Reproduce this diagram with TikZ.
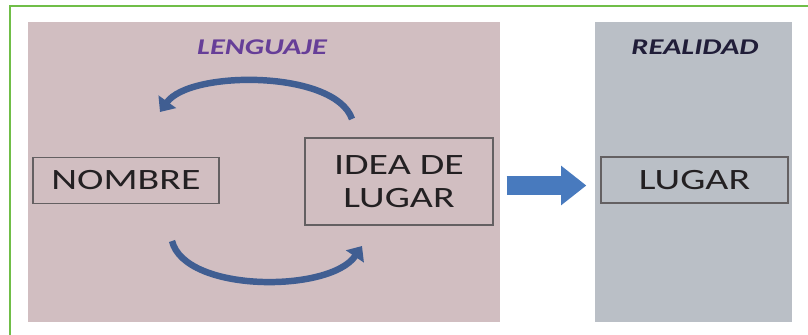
\documentclass[tikz,border=0pt]{standalone}
\usepackage{fontspec}
\setmainfont{Carlito}[FakeStretch=1.35]
\usetikzlibrary{arrows.meta, positioning, calc}
\definecolor{rose}{RGB}{209,190,193}
\definecolor{ardoise}{RGB}{186,191,198}
\definecolor{vert}{RGB}{112,190,72}
\definecolor{bleu}{RGB}{72,122,190}
\definecolor{bleufonce}{RGB}{64,94,146}
\definecolor{violet}{RGB}{102,62,152}
\definecolor{gris}{RGB}{100,96,98}
\definecolor{encre}{RGB}{35,32,34}
\tikzset{
	boite/.style={draw=gris, line width=1.3pt, inner sep=0pt, text=encre,
		font=\fontsize{21}{23.4}\selectfont, align=center},
	titre/.style={font=\fontsize{16}{18}\selectfont\bfseries\itshape},
	courbe/.style={bleufonce, line width=4.6pt, -{Triangle[length=9pt, width=15pt]}},
	grosse/.style={bleu, line width=13pt, -{Triangle[length=18pt, width=27pt]}}
}

\begin{document}
\begin{tikzpicture}[x=0.025cm, y=-0.025cm]
	\useasboundingbox (0,0) rectangle (808,335);
	
	% cadre vert
	\draw[vert, line width=1.4pt] (10,335) -- (10,6) -- (808,6);
	
	% panneaux
	\fill[rose] (28,22) rectangle (500,322);
	\fill[ardoise] (595,22) rectangle (792,322);
	\node[titre, text=violet] (lenguaje) at (262,47) {LENGUAJE};
	\node[titre, text=encre!90!blue] (realidad) at (695,47) {REALIDAD};
	
	% boites
	\node[boite, minimum width=4.65cm, minimum height=1.15cm] (nombre) at (126,180.5) {NOMBRE};
	\node[boite, minimum width=4.7cm, minimum height=2.18cm] (idea) at (399,181.5) {IDEA DE\\LUGAR};
	\node[boite, minimum width=4.68cm, minimum height=1.15cm] (lugar) at (694.5,180) {LUGAR};
	
	% fleches courbes
	\coordinate (haut-d) at (352,119);
	\coordinate (haut-g) at (160,112);
	\coordinate (bas-g) at (172,241);
	\coordinate (bas-d) at (362,246);
	\draw[courbe] (haut-d) .. controls (335,70) and (190,70) .. (haut-g);
	\draw[courbe] (bas-g) .. controls (185,293) and (330,293) .. (bas-d);
	
	% grosse fleche
	\draw[grosse, shorten <=0.32cm, shorten >=0.34cm] ($(idea.east)+(0,4)$) -- ($(idea.east -| lugar.west)+(0,4)$);
\end{tikzpicture}
\end{document}
